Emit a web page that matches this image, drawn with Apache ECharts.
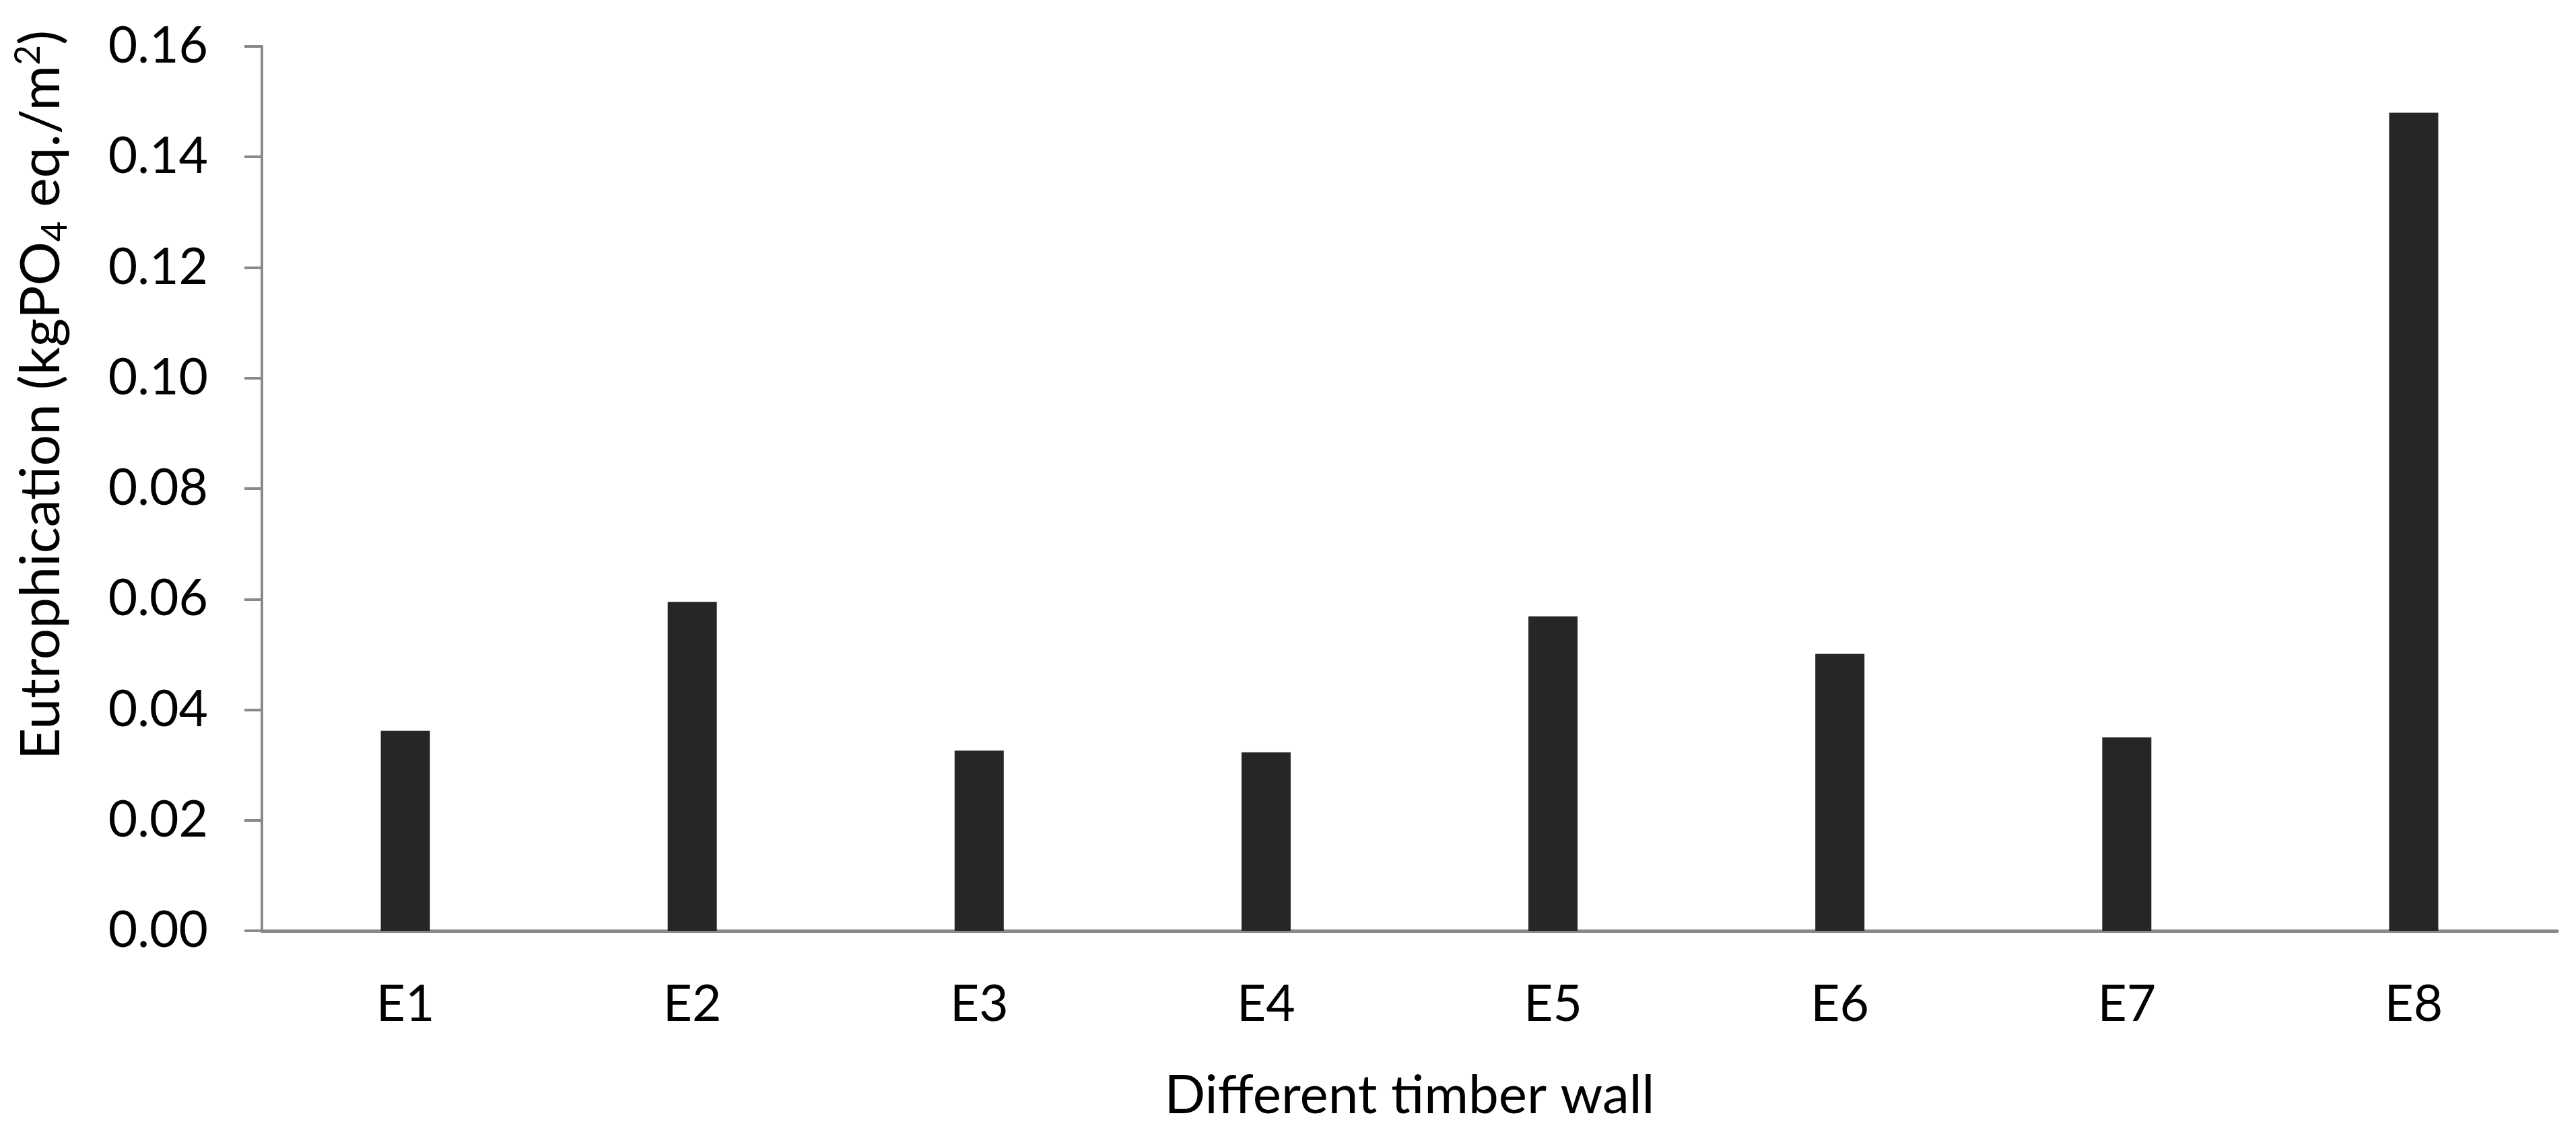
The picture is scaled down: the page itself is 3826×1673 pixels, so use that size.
<!DOCTYPE html>
<html>
<head>
<meta charset="utf-8">
<script src="https://cdn.jsdelivr.net/npm/echarts@6/dist/echarts.min.js"></script>
<style>
html,body{margin:0;padding:0;background:#fff;}
#chart{width:3826px;height:1673px;}
</style>
</head>
<body>
<div id="chart"></div>
<script>
var categories = ['E1','E2','E3','E4','E5','E6','E7','E8'];
var values = [0.0362, 0.0595, 0.0326, 0.0323, 0.0569, 0.0501, 0.0350, 0.1480];
var yTicks = {min: 0, max: 0.16, interval: 0.02};
var xTitle = 'Different timber wall';

var FONT = 'Lato';
var chart = echarts.init(document.getElementById('chart'), null, {renderer: 'canvas'});
chart.setOption({
  animation: false,
  backgroundColor: '#ffffff',
  grid: {left: 389, right: 28, top: 69, bottom: 287, containLabel: false},
  xAxis: {
    type: 'category',
    data: categories,
    axisLine: {show: true, lineStyle: {color: '#898989', width: 5}},
    axisTick: {show: false},
    axisLabel: {color: '#000', fontFamily: FONT, fontSize: 75, margin: 72},
    name: xTitle,
    nameLocation: 'middle',
    nameGap: 205,
    nameTextStyle: {color: '#000', fontFamily: FONT, fontSize: 80}
  },
  yAxis: {
    type: 'value',
    min: yTicks.min, max: yTicks.max, interval: yTicks.interval,
    axisLine: {show: true, lineStyle: {color: '#898989', width: 4}},
    axisTick: {show: true, inside: false, length: 26, lineStyle: {color: '#898989', width: 4}},
    splitLine: {show: false},
    axisLabel: {color: '#000', fontFamily: FONT, fontSize: 75, margin: 80,
      formatter: function (v) { return v.toFixed(2); }}
  },
  series: [{
    type: 'bar',
    data: values,
    barWidth: 73,
    itemStyle: {color: '#262626'}
  }],
  graphic: [{
    type: 'text',
    x: 62, y: 587,
    rotation: Math.PI / 2,
    style: {
      text: 'Eutrophication (kgPO{sub|4} eq./m{sup|2})',
      fill: '#000',
      font: '82px ' + FONT,
      align: 'center',
      verticalAlign: 'middle',
      rich: {
        sub: {fontSize: 52, fontFamily: FONT, fill: '#000', padding: [40, 0, 0, 0]},
        sup: {fontSize: 52, fontFamily: FONT, fill: '#000', padding: [0, 0, 40, 0]}
      }
    }
  }]
});
</script>
</body>
</html>
